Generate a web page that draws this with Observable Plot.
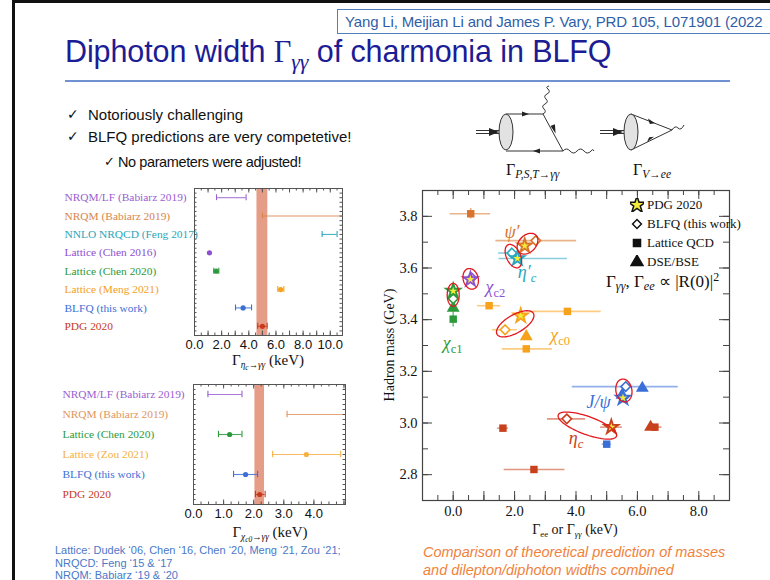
<!DOCTYPE html>
<html>
<head>
<meta charset="utf-8">
<script src="https://cdn.jsdelivr.net/npm/d3@7"></script>
<script src="https://cdn.jsdelivr.net/npm/@observablehq/plot@0.6"></script>
<style>
  html, body { margin: 0; padding: 0; background: #fff; }
  #slide { position: relative; width: 770px; height: 580px; overflow: hidden; background: #fff;
           font-family: "Liberation Sans", Arial, sans-serif; color: #111; }
  .abs { position: absolute; white-space: nowrap; line-height: 1; }
  .serif { font-family: "Liberation Serif", "Times New Roman", serif; }
  sub { font-size: 72%; vertical-align: -0.3em; line-height: 0; }
  sup { font-size: 70%; vertical-align: 0.45em; line-height: 0; }
  .it { font-style: italic; }
</style>
</head>
<body>
<div id="slide">
  <!-- slide frame -->
  <div class="abs" style="left:12px;top:0;width:760px;height:3px;background:#111"></div>
  <div class="abs" style="left:12px;top:0;width:3px;height:580px;background:#111"></div>

  <!-- reference box -->
  <div class="abs" style="left:337px;top:9px;width:460px;height:25px;border:1px solid #4f81bd;box-sizing:border-box"></div>
  <div class="abs" style="left:345px;top:13.5px;font-size:15px;color:#2f5ea8;letter-spacing:-0.15px">Yang Li, Meijian Li and James P. Vary, PRD 105, L071901 (2022</div>

  <!-- title -->
  <div class="abs" style="left:65px;top:36px;font-size:30.5px;color:#1c1c94;letter-spacing:-0.1px">Diphoton width <span class="serif">Γ<sub class="it">γγ</sub></span> of charmonia in BLFQ</div>
  <div class="abs" style="left:65px;top:80px;width:665px;height:2px;background:#7091d2"></div>

  <!-- bullets -->
  <div class="abs" style="left:67px;top:107px;font-size:14px;font-family:'DejaVu Sans'">✓</div>
  <div class="abs" style="left:88px;top:107px;font-size:15px">Notoriously challenging</div>
  <div class="abs" style="left:67px;top:129px;font-size:14px;font-family:'DejaVu Sans'">✓</div>
  <div class="abs" style="left:88px;top:129px;font-size:15px">BLFQ predictions are very competetive!</div>
  <div class="abs" style="left:104px;top:155px;font-size:13px;font-family:'DejaVu Sans'">✓</div>
  <div class="abs" style="left:118px;top:155px;font-size:14.5px;letter-spacing:-0.4px">No parameters were adjusted!</div>

  <!-- decay diagrams -->
  <svg class="abs" style="left:0;top:0" width="770" height="200" viewBox="0 0 770 200">
    <g stroke="#333" fill="none" stroke-width="1">
      <!-- P,S,T -> γγ -->
      <line x1="476" y1="130.5" x2="500" y2="130.5"/><line x1="476" y1="133.5" x2="500" y2="133.5"/>
      <line x1="506" y1="114" x2="543" y2="114"/>
      <line x1="543" y1="114" x2="563" y2="151"/>
      <line x1="563" y1="151" x2="506" y2="151"/>
      <path d="M543,114 q4,-2 1,-5 q-3,-3 1,-5 q4,-2 1,-5 q-3,-3 1,-5 q4,-2 1,-5 q-3,-2 1,-3"/>
      <path d="M563,151 q3.5,-4 7,0 q3.5,4 7,0 q3.5,-4 7,0 q3.5,4 7,0 q2,-3 3,0"/>
      <!-- V -> ee -->
      <line x1="600" y1="130.5" x2="624" y2="130.5"/><line x1="600" y1="133.5" x2="624" y2="133.5"/>
      <line x1="631" y1="114" x2="672" y2="130"/>
      <line x1="672" y1="130" x2="631" y2="150"/>
      <path d="M672,130 q3,-5 6,-2 q3,3 6,-3"/>
    </g>
    <g fill="#222" stroke="none">
      <path d="M489,128 L499,132 L489,136 Z"/>
      <path d="M613,128 L623,132 L613,136 Z"/>
      <path d="M522,111.5 L529,114 L522,116.5 Z"/>
      <path d="M550.5,126 L555.6,133.5 L554.9,124.2 Z"/>
      <path d="M540,148.5 L533,151 L540,153.5 Z"/>
      <path d="M648,118.5 L655,123.3 L649.8,123.9 Z"/>
      <path d="M654,136.7 L647,142 L649.2,137.2 Z"/>
    </g>
    <ellipse cx="506" cy="132" rx="7" ry="18" fill="#e2e2e2" stroke="#333" stroke-width="1"/>
    <ellipse cx="631" cy="132" rx="7" ry="18" fill="#e2e2e2" stroke="#333" stroke-width="1"/>
  </svg>
  <div class="abs serif" style="left:506px;top:162px;font-size:16px">Γ<sub class="it" style="font-size:72%">P,S,T→γγ</sub></div>
  <div class="abs serif" style="left:633px;top:162px;font-size:16px">Γ<sub class="it" style="font-size:72%">V→ee</sub></div>
</div>

<script>
// ---------- η_c → γγ widths (keV) ----------
const etaLabels = ["NRQM/LF (Babiarz 2019)", "NRQM (Babiarz 2019)", "NNLO NRQCD (Feng 2017)", "Lattice (Chen 2016)",
                   "Lattice (Chen 2020)", "Lattice (Meng 2021)", "BLFQ (this work)", "PDG 2020"];
const etaColors = ["#9a60d2", "#d9854c", "#2aa6ba", "#8d50d0", "#2b9a3c", "#f5a01e", "#3b6fd6", "#c83a1c"];
const etaValue  = [null, null, null, 1.1, 1.6, 6.35, 3.58, 5.0];
const etaLow    = [1.62, 5.0, 9.4, null, 1.42, 6.14, 3.02, 4.66];
const etaHigh   = [3.8, 12.0, 10.5, null, 1.79, 6.58, 4.2, 5.35];
const etaPdgBand = [4.6, 5.4];
const etaTicks  = [0, 2, 4, 6, 8, 10];

// ---------- χ_c0 → γγ widths (keV) ----------
const chiLabels = ["NRQM/LF (Babiarz 2019)", "NRQM (Babiarz 2019)", "Lattice (Chen 2020)", "Lattice (Zou 2021)",
                   "BLFQ (this work)", "PDG 2020"];
const chiColors = ["#9a60d2", "#e0965f", "#2b9a3c", "#f6b043", "#3b6fd6", "#c83a1c"];
const chiValue  = [null, null, 1.2, 3.75, 1.73, 2.2];
const chiLow    = [0.48, 3.11, 0.83, 2.63, 1.33, 2.06];
const chiHigh   = [1.61, 6.0, 1.61, 4.89, 2.13, 2.38];
const chiPdgBand = [2.04, 2.36];
const chiTicks  = [0, 1, 2, 3, 4];

// ---------- masses vs. dilepton / diphoton widths ----------
const states      = ["ηc", "J/ψ", "χc0", "χc1", "χc2", "η′c", "ψ′"];
const stateColors = ["#c8401c", "#3b6fd8", "#f7a21b", "#2c9a3a", "#8c52d0", "#2aa6bd", "#d7742d"];
const ptState  = ["ηc","ηc","ηc","ηc","ηc","ηc", "J/ψ","J/ψ","J/ψ","J/ψ","J/ψ",
                  "χc0","χc0","χc0","χc0","χc0","χc0", "χc1","χc1","χc1","χc1",
                  "χc2","χc2", "η′c","η′c", "ψ′","ψ′","ψ′"];
const ptMethod = ["PDG","BLFQ","Lattice","Lattice","Lattice","DSE", "PDG","BLFQ","DSE","DSE","Lattice",
                  "PDG","BLFQ","Lattice","Lattice","Lattice","DSE", "PDG","BLFQ","DSE","Lattice",
                  "PDG","BLFQ", "PDG","BLFQ", "PDG","BLFQ","Lattice"];
const ptWidth  = [5.15, 3.70, 1.62, 2.63, 6.57, 6.43, 5.53, 5.62, 6.16, 5.50, 5.00,
                  2.20, 1.69, 1.17, 3.72, 2.38, 2.38, 0, 0, 0, 0,
                  0.56, 0.60, 2.09, 1.91, 2.33, 2.69, 0.57];
const ptLow    = [4.80, 3.07, 1.45, 1.66, 6.36, null, null, 3.88, null, null, 4.85,
                  2.04, 1.28, 0.79, 2.52, 1.60, null, null, null, null, null,
                  null, null, 1.49, 1.48, null, 1.39, -0.10];
const ptHigh   = [5.51, 4.31, 1.80, 3.64, 6.80, null, null, 7.33, null, null, 5.15,
                  2.36, 2.09, 1.55, 4.82, 3.23, null, null, null, null, null,
                  null, null, 3.72, 2.10, null, 4.02, 1.22];
const ptMass   = [2.984, 3.016, 2.980, 2.820, 2.984, 2.984, 3.097, 3.141, 3.135, 3.108, 2.918,
                  3.415, 3.361, 3.454, 3.432, 3.287, 3.335, 3.511, 3.481, 3.445, 3.402,
                  3.556, 3.562, 3.637, 3.658, 3.686, 3.706, 3.810];
const ptMassLow  = {20: 3.372, 27: 3.790};
const ptMassHigh = {20: 3.432, 27: 3.830};

// highlight rings: centre (keV, GeV), semi-axes in pixels, tilt in degrees
const ringX = [2.42, 1.96, 0.57, 0.0, 2.02, 5.56, 4.37];
const ringY = [3.694, 3.646, 3.558, 3.496, 3.384, 3.126, 2.990];
const ringA = [12, 12.5, 10.5, 11.5, 21, 11.5, 31];
const ringB = [8.5, 7, 7.5, 6, 9, 8, 9];
const ringTilt = [-45, 65, 75, 90, -30, 80, 20];

// state names placed beside their clusters
const nameState = ["ψ′", "η′c", "χc2", "χc1", "χc0", "J/ψ", "ηc"];
const nameMain  = ["ψ′", "η′", "χ", "χ", "χ", "J/ψ", "η"];
const nameSub   = ["", "c", "c2", "c1", "c0", "", "c"];
const nameX     = [1.93, 2.42, 1.39, 0.0, 3.5, 4.75, 4.02];
const nameY     = [3.739, 3.584, 3.526, 3.307, 3.339, 3.08, 2.939];

const massTicks  = [2.8, 3.0, 3.2, 3.4, 3.6, 3.8];
const widthTicks = [0, 2, 4, 6, 8];

// ---------------------------------------------------------------
const slide = document.getElementById("slide");
function mount(node, left, top) {
  node.style.position = "absolute";
  node.style.left = left + "px";
  node.style.top = top + "px";
  node.style.overflow = "visible";
  slide.appendChild(node);
}
function tag(html, x, y, css = {}, ax = 0, ay = 0.5) {
  const el = document.createElement("div");
  el.className = "abs";
  el.innerHTML = html;
  el.style.left = x + "px";
  el.style.top = y + "px";
  el.style.transform = `translate(${-ax * 100}%, ${-ay * 100}%)`;
  Object.assign(el.style, css);
  slide.appendChild(el);
  return el;
}
const fmt1 = d3.format(".1f");

// Horizontal-bar comparison panel
function comparison({labels, colors, value, low, high, band, ticks, domain, width, height, margin, labelLeft, minorStep}) {
  const rows = labels.map((label, i) => ({i, label, color: colors[i], value: value[i], low: low[i], high: high[i]}));
  const withBar = rows.filter(d => d.low != null);
  const withDot = rows.filter(d => d.value != null);
  const fw = width - margin.left - margin.right;
  const fh = height - margin.top - margin.bottom;
  const n = labels.length;
  const minor = d3.range(Math.ceil(domain[0] / minorStep) * minorStep, domain[1] + 1e-9, minorStep);
  const major = minor.filter(v => Math.abs(v - Math.round(v)) < 1e-9);
  const rowTicks = d3.range(-0.5, n - 0.5 + 1e-9, 0.25);
  return Plot.plot({
    width, height,
    marginLeft: margin.left, marginRight: margin.right, marginTop: margin.top, marginBottom: margin.bottom,
    x: {domain},
    y: {domain: [n - 0.5, -0.5], axis: null},
    color: {type: "identity"},
    style: {background: "transparent", overflow: "visible"},
    marks: [
      Plot.rect([band], {x1: d => d[0], x2: d => d[1], fill: "#e69d87"}),
      Plot.ruleY(withBar, {y: "i", x1: "low", x2: "high", stroke: "color", strokeWidth: 1.1, strokeOpacity: 0.85, clip: true}),
      Plot.ruleX(withBar, {x: "low", y1: d => d.i - 0.16, y2: d => d.i + 0.16, stroke: "color", strokeWidth: 1.1, clip: true}),
      Plot.ruleX(withBar, {x: "high", y1: d => d.i - 0.16, y2: d => d.i + 0.16, stroke: "color", strokeWidth: 1.1, clip: true}),
      Plot.dot(withDot, {x: "value", y: "i", fill: "color", r: 2.6}),
      Plot.text(rows, {y: "i", text: "label", fill: "color", frameAnchor: "left", textAnchor: "start",
                       dx: -(margin.left - labelLeft), fontFamily: "Liberation Serif", fontSize: 11.4}),
      Plot.frame({stroke: "#555", strokeWidth: 1}),
      Plot.tickX(minor, {x: d => d, insetTop: fh - 2.5, stroke: "#555"}),
      Plot.tickX(major, {x: d => d, insetTop: fh - 4.5, stroke: "#555"}),
      Plot.tickX(minor, {x: d => d, insetBottom: fh - 2.5, stroke: "#555"}),
      Plot.tickX(major, {x: d => d, insetBottom: fh - 4.5, stroke: "#555"}),
      Plot.tickY(rowTicks, {y: d => d, insetRight: fw - 2.5, stroke: "#555"}),
      Plot.tickY(rowTicks, {y: d => d, insetLeft: fw - 2.5, stroke: "#555"}),
      Plot.axisX(ticks, {tickSize: 0, tickPadding: 4, tickFormat: fmt1, label: null,
                         fontFamily: "Liberation Sans", fontSize: 13, fill: "#111"})
    ]
  });
}

// η_c panel
const etaChart = comparison({
  labels: etaLabels, colors: etaColors, value: etaValue, low: etaLow, high: etaHigh, band: etaPdgBand,
  ticks: etaTicks, domain: [0, 10.9], width: 360, height: 200,
  margin: {left: 194, right: 18, top: 18, bottom: 35}, labelLeft: 64, minorStep: 0.5
});
mount(etaChart, 0, 170);
tag(`Γ<sub class="it" style="font-size:62%">η<sub style="font-size:80%">c</sub>→γγ</sub> (keV)`, 268, 360,
    {fontFamily: "Liberation Serif", fontSize: "15px"}, 0.5, 0.5);

// χ_c0 panel
const chiChart = comparison({
  labels: chiLabels, colors: chiColors, value: chiValue, low: chiLow, high: chiHigh, band: chiPdgBand,
  ticks: chiTicks, domain: [0, 5.05], width: 360, height: 160,
  margin: {left: 193, right: 15, top: 14, bottom: 26}, labelLeft: 62, minorStep: 0.25
});
mount(chiChart, 0, 370);
tag(`Γ<sub class="it" style="font-size:62%">χ<sub style="font-size:80%">c0</sub>→γγ</sub> (keV)`, 270, 532,
    {fontFamily: "Liberation Serif", fontSize: "15px"}, 0.5, 0.5);

// ---------- mass vs width panel ----------
const colorOf = Object.fromEntries(states.map((s, i) => [s, stateColors[i]]));
const pts = ptState.map((s, i) => ({
  state: s, method: ptMethod[i], color: colorOf[s], w: ptWidth[i], lo: ptLow[i], hi: ptHigh[i],
  m: ptMass[i], mlo: ptMassLow[i], mhi: ptMassHigh[i]
}));
const W = 390, H = 345, mL = 42, mR = 41, mT = 10, mB = 25;
const fw = W - mL - mR, fh = H - mT - mB;
const xDom = [-1, 9], yDom = [2.7, 3.9];
const kx = (xDom[1] - xDom[0]) / fw, ky = (yDom[1] - yDom[0]) / fh;
const ringPts = ringX.flatMap((cx, k) => d3.range(0, 73).map(j => {
  const t = j / 72 * 2 * Math.PI, a = ringTilt[k] * Math.PI / 180;
  const dx = ringA[k] * Math.cos(t) * Math.cos(a) - ringB[k] * Math.sin(t) * Math.sin(a);
  const dy = ringA[k] * Math.cos(t) * Math.sin(a) + ringB[k] * Math.sin(t) * Math.cos(a);
  return {k, x: cx + dx * kx, y: ringY[k] - dy * ky};
}));
const xMinor = d3.range(-0.5, 9, 0.5);
const xMajor = xMinor.filter(v => Number.isInteger(v));
const yMinor = d3.range(27, 39).map(v => v / 10);
const yMajor = massTicks;
const bars = pts.filter(d => d.lo != null);
const vbars = pts.filter(d => d.mlo != null);
const by = m => pts.filter(d => d.method === m);

const massChart = Plot.plot({
  width: W, height: H, marginLeft: mL, marginRight: mR, marginTop: mT, marginBottom: mB,
  x: {domain: xDom}, y: {domain: yDom},
  color: {type: "identity"},
  style: {background: "transparent", overflow: "visible"},
  marks: [
    Plot.ruleY(bars, {y: "m", x1: "lo", x2: "hi", stroke: "color", strokeWidth: 1.6, strokeOpacity: 0.55}),
    Plot.ruleX(vbars, {x: "w", y1: "mlo", y2: "mhi", stroke: "color", strokeWidth: 1.6, strokeOpacity: 0.6}),
    Plot.dot(by("Lattice"), {x: "w", y: "m", symbol: "square", r: 4.2, fill: "color"}),
    Plot.dot(by("DSE"), {x: "w", y: "m", symbol: "triangle", r: 4.8, fill: "color"}),
    Plot.dot(by("BLFQ"), {x: "w", y: "m", symbol: "diamond2", r: 4.3, fill: "white", stroke: "color", strokeWidth: 1.6}),
    Plot.dot(by("PDG"), {x: "w", y: "m", symbol: "star", r: 6.2, fill: "color"}),
    Plot.dot(by("PDG"), {x: "w", y: "m", symbol: "star", r: 2.6, fill: "#f4ea3a"}),
    Plot.line(ringPts, {x: "x", y: "y", z: "k", stroke: "#e3171d", strokeWidth: 1.3}),
    Plot.frame({stroke: "#444", strokeWidth: 1.2}),
    Plot.tickX(xMinor, {x: d => d, insetTop: fh - 5, stroke: "#444"}),
    Plot.tickX(xMajor, {x: d => d, insetTop: fh - 9, stroke: "#444"}),
    Plot.tickX(xMinor, {x: d => d, insetBottom: fh - 5, stroke: "#444"}),
    Plot.tickX(xMajor, {x: d => d, insetBottom: fh - 9, stroke: "#444"}),
    Plot.tickY(yMinor, {y: d => d, insetRight: fw - 6, stroke: "#444"}),
    Plot.tickY(yMajor, {y: d => d, insetRight: fw - 10, stroke: "#444"}),
    Plot.tickY(yMinor, {y: d => d, insetLeft: fw - 6, stroke: "#444"}),
    Plot.tickY(yMajor, {y: d => d, insetLeft: fw - 10, stroke: "#444"}),
    Plot.axisX(widthTicks, {tickSize: 0, tickPadding: 5, tickFormat: fmt1, label: null,
                            fontFamily: "Liberation Serif", fontSize: 14.5, fill: "#111"}),
    Plot.axisY(massTicks, {tickSize: 0, tickPadding: 5, tickFormat: fmt1, label: null,
                           fontFamily: "Liberation Serif", fontSize: 14.5, fill: "#111"})
  ]
});
const mLeft = 380, mTop = 180;
mount(massChart, mLeft, mTop);

// state names, placed through the panel's scales
const sx = massChart.scale("x"), sy = massChart.scale("y");
nameMain.forEach((main, i) => {
  const c = colorOf[nameState[i]];
  const sub = nameSub[i] ? `<sub style="font-style:${nameSub[i] === "c" ? "italic" : "normal"};font-size:70%">${nameSub[i]}</sub>` : "";
  tag(`<span class="it">${main}</span>${sub}`, mLeft + sx.apply(nameX[i]), mTop + sy.apply(nameY[i]),
      {fontFamily: "Liberation Serif", fontSize: "18px", color: c}, 0.5, 0.5);
});

// axis titles
tag("Hadron mass (GeV)", 390, 345, {fontFamily: "Liberation Serif", fontSize: "14px",
    transform: "translate(-50%,-50%) rotate(-90deg)"});
tag(`Γ<sub style="font-size:62%">ee</sub> or Γ<sub class="it" style="font-size:62%">γγ</sub> (keV)`, 575, 530,
    {fontFamily: "Liberation Serif", fontSize: "14px"}, 0.5, 0.5);

// legend
const legendSymbols = [d3.symbolStar, d3.symbolDiamond2, d3.symbolSquare, d3.symbolTriangle];
const legendText = ["PDG 2020", "BLFQ (this work)", "Lattice QCD", "DSE/BSE"];
const legendFill = ["#f4ea3a", "#fff", "#111", "#111"];
const legendSize = [90, 50, 50, 60];
legendText.forEach((t, i) => {
  const y = 204 + i * 19;
  const path = d3.symbol(legendSymbols[i], legendSize[i])();
  tag(`<svg width="14" height="14" viewBox="-7 -7 14 14" style="vertical-align:middle"><path d="${path}" fill="${legendFill[i]}" stroke="#111" stroke-width="1.5"/></svg>`,
      637, y, {}, 0.5, 0.5);
  tag(t, 647, y, {fontFamily: "Liberation Serif", fontSize: "13px"}, 0, 0.5);
});
tag(`Γ<sub class="it">γγ</sub>, Γ<sub class="it">ee</sub> ∝ |<span>R</span>(0)|<sup>2</sup>`, 606, 281,
    {fontFamily: "Liberation Serif", fontSize: "17px"}, 0, 0.5);

// footnotes
tag("Lattice: Dudek ‘06, Chen ‘16, Chen ‘20, Meng ‘21, Zou ‘21;", 55, 550, {fontSize: "11px", color: "#4a78c8"});
tag("NRQCD: Feng ‘15 &amp; ‘17", 55, 562.5, {fontSize: "11px", color: "#4a78c8"});
tag("NRQM: Babiarz ‘19 &amp; ‘20", 55, 574.5, {fontSize: "11px", color: "#4a78c8"});
tag("Comparison of theoretical prediction of masses", 423, 552,
    {fontSize: "14.5px", fontStyle: "italic", color: "#f0823c"});
tag("and dilepton/diphoton widths combined", 423, 570,
    {fontSize: "14.5px", fontStyle: "italic", color: "#f0823c"});
</script>
</body>
</html>
